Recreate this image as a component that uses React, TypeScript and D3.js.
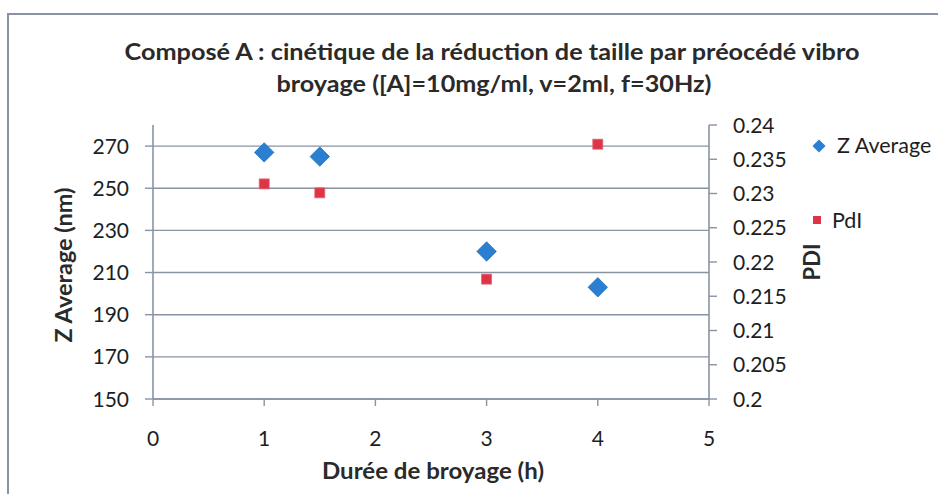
import React from "react";
import * as d3 from "d3";

const durations = [1, 1.5, 3, 4];
const zAverage = [267, 265, 220, 203];
const pdi = [0.2314, 0.2301, 0.2175, 0.2372];
const xTicks = [0, 1, 2, 3, 4, 5];
const leftTicks = [150, 170, 190, 210, 230, 250, 270];
const rightTicks = [0.2, 0.205, 0.21, 0.215, 0.22, 0.225, 0.23, 0.235, 0.24];
const titleLines = [
  "Composé A : cinétique de la réduction de taille par préocédé vibro",
  "broyage ([A]=10mg/ml, v=2ml, f=30Hz)",
];
const xTitle = "Durée de broyage (h)";
const yLeftTitle = "Z Average (nm)";
const yRightTitle = "PDI";
const seriesNames = ["Z Average", "PdI"];

const W = 938;
const H = 494;
const FONT = "Lato, 'Open Sans', sans-serif";
const AXIS = "#8a93a4";
const BLUE = "#2b7fd1";
const RED = "#de3448";

export default function App() {
  const x = d3.scaleLinear().domain([0, 5]).range([153, 709]);
  const yL = d3.scaleLinear().domain([150, 280]).range([399, 125]);
  const yR = d3.scaleLinear().domain([0.2, 0.24]).range([399, 125]);
  const fmtR = (v: number) => d3.format("")(+v.toFixed(3));
  const diamond = d3.symbol().type(d3.symbolDiamond2).size(240)() as string;
  const diamondLeg = d3.symbol().type(d3.symbolDiamond2).size(110)() as string;

  return (
    <svg
      width={W}
      height={H}
      style={{ position: "absolute", left: 0, top: 0, background: "#fff" }}
      fontFamily={FONT}
    >
      <rect x={0} y={0} width={W} height={H} fill="#fff" />
      {/* chart frame */}
      <path d={`M8,${H} V14 H${W}`} fill="none" stroke={AXIS} strokeWidth={2} />

      {/* title */}
      <text x={492} y={60} textAnchor="middle" fontSize={22} fontWeight="bold" fill="#2a2a2a"
        textLength={735} lengthAdjust="spacingAndGlyphs">{titleLines[0]}</text>
      <text x={494} y={92} textAnchor="middle" fontSize={22} fontWeight="bold" fill="#2a2a2a"
        textLength={435} lengthAdjust="spacingAndGlyphs">{titleLines[1]}</text>

      {/* gridlines */}
      {leftTicks.map((t) => (
        <line key={"g" + t} x1={x(0)} x2={x(5)} y1={yL(t)} y2={yL(t)} stroke={AXIS} strokeWidth={1.4} />
      ))}

      {/* left axis */}
      <line x1={x(0)} x2={x(0)} y1={yL(280)} y2={yL(150)} stroke={AXIS} strokeWidth={1.6} />
      {leftTicks.map((t) => (
        <g key={"l" + t}>
          <line x1={x(0) - 8} x2={x(0)} y1={yL(t)} y2={yL(t)} stroke={AXIS} strokeWidth={1.4} />
          <text x={129} y={yL(t) + 7.5} textAnchor="end" fontSize={21} fill="#1e1e1e">{t}</text>
        </g>
      ))}

      {/* right axis */}
      <line x1={x(5)} x2={x(5)} y1={yR(0.24)} y2={yR(0.2)} stroke={AXIS} strokeWidth={1.6} />
      {rightTicks.map((t) => (
        <g key={"r" + t}>
          <line x1={x(5)} x2={x(5) + 8} y1={yR(t)} y2={yR(t)} stroke={AXIS} strokeWidth={1.4} />
          <text x={733} y={yR(t) + 7.5} textAnchor="start" fontSize={21} fill="#1e1e1e">{fmtR(t)}</text>
        </g>
      ))}

      {/* x axis */}
      <line x1={x(0)} x2={x(5)} y1={yL(150)} y2={yL(150)} stroke={AXIS} strokeWidth={1.6} />
      {xTicks.map((t) => (
        <g key={"x" + t}>
          <line x1={x(t)} x2={x(t)} y1={yL(150)} y2={yL(150) + 7} stroke={AXIS} strokeWidth={1.4} />
          <text x={x(t)} y={446} textAnchor="middle" fontSize={21} fill="#1e1e1e">{t}</text>
        </g>
      ))}

      {/* axis titles */}
      <text x={433} y={479} textAnchor="middle" fontSize={22} fontWeight="bold" fill="#2a2a2a"
        textLength={222} lengthAdjust="spacingAndGlyphs">{xTitle}</text>
      <text transform={`translate(72,265) rotate(-90)`} textAnchor="middle" fontSize={22} fontWeight="bold" fill="#2a2a2a"
        textLength={155} lengthAdjust="spacingAndGlyphs">{yLeftTitle}</text>
      <text transform={`translate(820,262) rotate(-90)`} textAnchor="middle" fontSize={22} fontWeight="bold" fill="#2a2a2a">{yRightTitle}</text>

      {/* series */}
      {durations.map((d, i) => (
        <path key={"z" + i} d={diamond} transform={`translate(${x(d)},${yL(zAverage[i])})`} fill={BLUE} stroke="#1c6fc0" strokeWidth={0.8} />
      ))}
      {durations.map((d, i) => (
        <rect key={"p" + i} x={x(d) - 5} y={yR(pdi[i]) - 5} width={10} height={10} fill={RED} stroke="#e46a76" strokeWidth={0.8} />
      ))}

      {/* legend */}
      <path d={diamondLeg} transform={`translate(819,146)`} fill={BLUE} />
      <text x={837} y={153} fontSize={21.5} fill="#1e1e1e">{seriesNames[0]}</text>
      <rect x={813} y={216} width={8} height={8} fill={RED} />
      <text x={832} y={228} fontSize={21.5} fill="#1e1e1e">{seriesNames[1]}</text>
    </svg>
  );
}
